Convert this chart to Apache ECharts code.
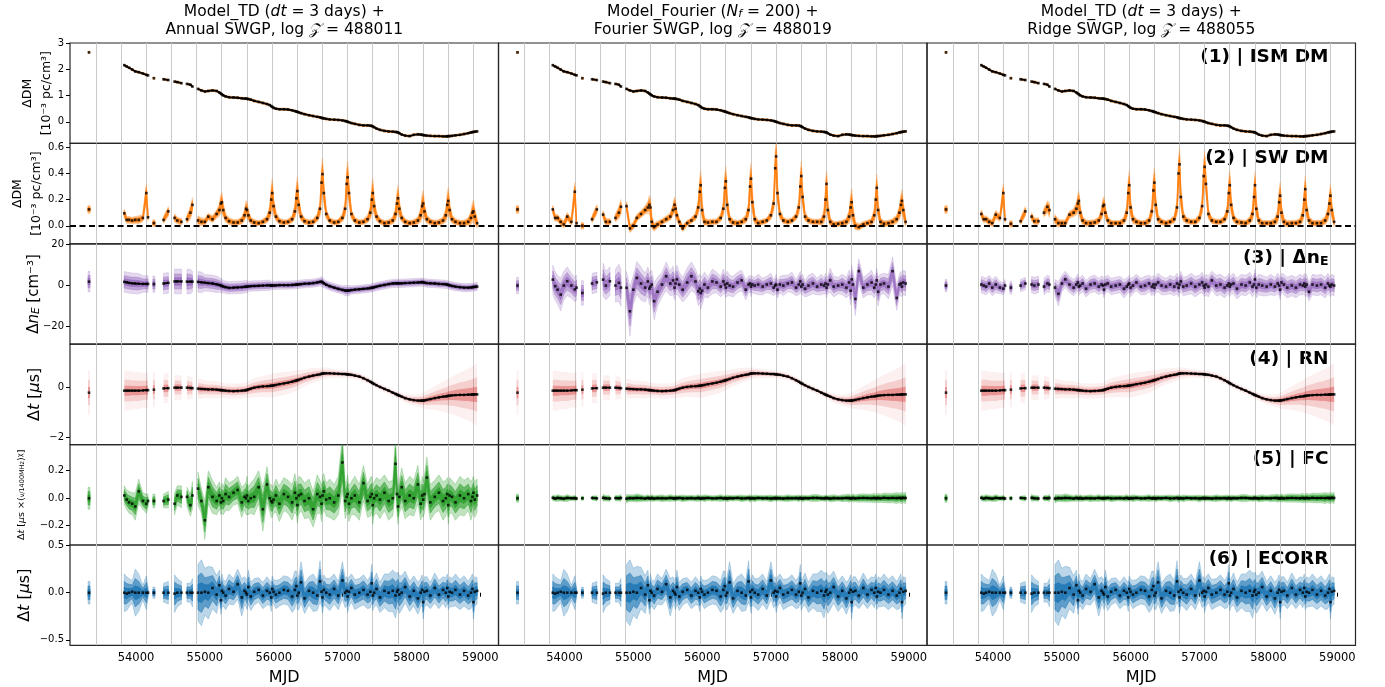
<!DOCTYPE html>
<html>
<head>
<meta charset="utf-8">
<script src="https://cdn.jsdelivr.net/npm/echarts@6/dist/echarts.min.js"></script>
<style>
  html, body { margin: 0; padding: 0; background: #fff; }
  #chart { width: 1385px; height: 687px; }
</style>
</head>
<body>
<div id="chart"></div>
<script>
// Observing epochs (MJD) shared by every panel
const epochMJD = [
  53318, 53830, 53865, 53900, 53945, 53990, 54040, 54100, 54150, 54175, 54260, 54400, 54470, 54560, 54600, 54660, 54740, 54790, 54820, 54900, 54950, 55000, 55050,
  55111, 55171, 55211, 55233, 55247, 55266, 55301, 55351, 55416,
  55476, 55536, 55576, 55598, 55612, 55631, 55666, 55716, 55781,
  55842, 55902, 55942, 55964, 55978, 55997, 56032, 56082, 56147,
  56207, 56267, 56307, 56329, 56343, 56362, 56397, 56447, 56512,
  56572, 56632, 56672, 56694, 56708, 56727, 56762, 56812, 56877,
  56937, 56997, 57037, 57059, 57073, 57092, 57127, 57177, 57242,
  57302, 57362, 57402, 57424, 57438, 57457, 57492, 57542, 57607,
  57668, 57728, 57768, 57790, 57804, 57823, 57858, 57908, 57973,
  58033, 58093, 58133, 58155, 58169, 58188, 58223, 58273, 58338,
  58398, 58458, 58498, 58520, 58534, 58553, 58588, 58638, 58703,
  58763, 58823, 58863, 58885, 58899, 58918, 58953
];
// Solar conjunction dates (vertical guide lines)
const conjunctionMJD = [53415, 53780, 54146, 54511, 54876, 55241, 55606, 55972, 56337, 56702, 57067, 57432, 57798, 58163, 58528, 58893];
const mjdTicks = [54000, 55000, 56000, 57000, 58000, 59000];

// (1) ISM DM [1e-3 pc/cm^3]
const ismDM = [
  2.66, 2.17, 2.12, 2.07, 2.0, 1.93, 1.9, 1.85, 1.8, 1.78, 1.67, 1.63, 1.6, 1.54, 1.52, 1.48, 1.45, 1.42, 1.35, 1.26, 1.2, 1.16, 1.18,
  1.2, 1.18, 1.12, 1.08, 1.05, 1.01, 0.97, 0.94, 0.93,
  0.92, 0.9, 0.89, 0.89, 0.88, 0.87, 0.85, 0.8, 0.76,
  0.72, 0.68, 0.64, 0.6, 0.57, 0.53, 0.5, 0.48, 0.48,
  0.47, 0.44, 0.41, 0.39, 0.38, 0.36, 0.33, 0.29, 0.25,
  0.22, 0.19, 0.17, 0.15, 0.14, 0.13, 0.11, 0.09, 0.08,
  0.07, 0.05, 0.03, 0.01, 0.0, -0.02, -0.05, -0.08, -0.12,
  -0.14, -0.14, -0.15, -0.16, -0.18, -0.21, -0.26, -0.31, -0.35,
  -0.37, -0.38, -0.39, -0.4, -0.41, -0.44, -0.49, -0.53, -0.55,
  -0.5, -0.48, -0.49, -0.5, -0.51, -0.52, -0.53, -0.54, -0.55,
  -0.55, -0.56, -0.56, -0.56, -0.55, -0.55, -0.54, -0.52, -0.5,
  -0.47, -0.44, -0.41, -0.4, -0.39, -0.38, -0.37
];
const ismBand = 0.04;

// (2) Solar-wind DM [1e-3 pc/cm^3]
const swDM_Annual = [
  0.125, 0.095, 0.045, 0.045, 0.04, 0.045, 0.045, 0.06, 0.25, 0.065, 0.02, 0.045, 0.11, 0.06, 0.04, 0.03, 0.05, 0.1, 0.16, 0.04, 0.03, 0.03, 0.07,
  0.05, 0.09, 0.12, 0.17, 0.18, 0.12, 0.06, 0.035, 0.025,
  0.025, 0.04, 0.08, 0.13, 0.12, 0.08, 0.04, 0.025, 0.02,
  0.03, 0.05, 0.1, 0.2, 0.25, 0.15, 0.07, 0.035, 0.025,
  0.03, 0.05, 0.11, 0.21, 0.265, 0.16, 0.07, 0.035, 0.025,
  0.03, 0.06, 0.13, 0.33, 0.395, 0.25, 0.09, 0.04, 0.025,
  0.03, 0.06, 0.13, 0.32, 0.37, 0.25, 0.09, 0.04, 0.025,
  0.03, 0.05, 0.1, 0.2, 0.25, 0.15, 0.07, 0.035, 0.02,
  0.025, 0.04, 0.09, 0.17, 0.21, 0.13, 0.06, 0.03, 0.02,
  0.025, 0.04, 0.08, 0.15, 0.17, 0.11, 0.05, 0.03, 0.02,
  0.025, 0.04, 0.08, 0.16, 0.19, 0.12, 0.05, 0.03, 0.02,
  0.02, 0.03, 0.06, 0.1, 0.11, 0.07, 0.02
];
const swDM_Fourier = [
  0.125, 0.125, 0.06, 0.06, 0.03, 0.01, 0.07, 0.03, 0.26, 0.02, 0.0, 0.05, 0.125, 0.085, 0.03, 0.03, 0.06, 0.1, 0.145, 0.15, -0.02, 0.0, 0.06,
  0.09, 0.12, 0.14, 0.16, 0.14, 0.03, -0.01, 0.01, 0.03,
  0.05, 0.07, 0.12, 0.16, 0.13, 0.08, 0.03, -0.02, 0.02,
  0.04, 0.07, 0.14, 0.26, 0.31, 0.12, 0.03, 0.025, 0.03,
  0.03, 0.06, 0.13, 0.29, 0.34, 0.16, 0.05, 0.025, 0.02,
  0.03, 0.05, 0.12, 0.3, 0.36, 0.18, 0.05, 0.02, 0.03,
  0.04, 0.08, 0.17, 0.44, 0.53, 0.25, 0.09, 0.04, 0.03,
  0.04, 0.07, 0.14, 0.3, 0.38, 0.22, 0.07, 0.04, 0.03,
  0.03, 0.03, 0.07, 0.2, 0.32, 0.12, 0.03, 0.01, 0.015,
  0.02, 0.03, 0.07, 0.14, 0.18, 0.08, 0.0, -0.01, 0.01,
  0.02, 0.03, 0.08, 0.2, 0.29, 0.12, 0.03, 0.015, 0.02,
  0.03, 0.05, 0.1, 0.16, 0.19, 0.12, 0.03
];
const swDM_Ridge = [
  0.125, 0.09, 0.05, 0.05, 0.03, 0.02, 0.085, 0.06, 0.25, 0.05, 0.015, 0.035, 0.11, 0.07, 0.035, 0.035, 0.1, 0.145, 0.12, 0.05, 0.02, 0.02, 0.02,
  0.085, 0.1, 0.13, 0.17, 0.19, 0.1, 0.04, 0.02, 0.02,
  0.025, 0.04, 0.09, 0.15, 0.16, 0.1, 0.04, 0.02, 0.02,
  0.02, 0.04, 0.1, 0.25, 0.31, 0.14, 0.05, 0.03, 0.02,
  0.02, 0.04, 0.11, 0.27, 0.33, 0.16, 0.05, 0.03, 0.02,
  0.03, 0.05, 0.14, 0.4, 0.47, 0.22, 0.07, 0.04, 0.03,
  0.03, 0.06, 0.15, 0.38, 0.45, 0.32, 0.09, 0.04, 0.03,
  0.03, 0.05, 0.11, 0.25, 0.31, 0.16, 0.06, 0.03, 0.025,
  0.02, 0.04, 0.09, 0.22, 0.31, 0.13, 0.04, 0.02, 0.02,
  0.02, 0.03, 0.07, 0.18, 0.23, 0.1, 0.03, 0.015, 0.02,
  0.02, 0.03, 0.08, 0.2, 0.28, 0.12, 0.04, 0.02, 0.02,
  0.02, 0.04, 0.09, 0.17, 0.23, 0.12, 0.03
];
const swSpread = [
  0.03, 0.03, 0.025, 0.025, 0.025, 0.025, 0.03, 0.025, 0.07, 0.025, 0.025, 0.025, 0.035, 0.03, 0.025, 0.025, 0.03, 0.045, 0.055, 0.035, 0.03, 0.025, 0.025,
  0.025, 0.03, 0.045, 0.07, 0.07, 0.05, 0.03, 0.025, 0.022,
  0.022, 0.026, 0.04, 0.06, 0.06, 0.04, 0.026, 0.022, 0.02,
  0.02, 0.026, 0.05, 0.1, 0.11, 0.065, 0.032, 0.022, 0.02,
  0.02, 0.026, 0.05, 0.1, 0.11, 0.065, 0.032, 0.022, 0.02,
  0.02, 0.028, 0.055, 0.11, 0.12, 0.075, 0.035, 0.022, 0.02,
  0.02, 0.028, 0.055, 0.11, 0.12, 0.075, 0.035, 0.022, 0.02,
  0.02, 0.026, 0.05, 0.1, 0.11, 0.065, 0.032, 0.022, 0.02,
  0.02, 0.026, 0.05, 0.09, 0.1, 0.06, 0.03, 0.022, 0.02,
  0.022, 0.026, 0.05, 0.09, 0.1, 0.06, 0.03, 0.024, 0.022,
  0.022, 0.026, 0.05, 0.09, 0.1, 0.06, 0.03, 0.024, 0.022,
  0.024, 0.03, 0.05, 0.075, 0.085, 0.06, 0.035
];

// (3) Delta n_E [cm^-3]
const neE_Annual = [
  1.9, 1.8, 1.6, 1.3, 1.1, 1.0, 0.9, 0.8, 0.8, 0.8, 0.7, 1.0, 1.3, 2.0, 2.0, 2.0, 1.9, 1.9, 1.9, 1.8, 1.6, 1.4, 1.2,
  1.0, 0.6, 0.3, 0.0, -0.2, -0.5, -0.8, -1.1, -1.0,
  -0.9, -0.8, -0.6, -0.5, -0.5, -0.4, -0.3, -0.2, -0.1,
  0.0, 0.1, 0.1, 0.0, 0.0, 0.1, 0.1, 0.2, 0.2,
  0.2, 0.3, 0.4, 0.5, 0.5, 0.6, 0.7, 0.9, 1.0,
  1.2, 1.5, 1.8, 1.9, 1.6, 1.1, 0.4, -0.3, -1.0,
  -1.6, -2.1, -2.4, -2.5, -2.5, -2.4, -2.2, -2.0, -1.8,
  -1.6, -1.4, -1.2, -1.1, -1.0, -0.8, -0.5, -0.1, 0.3,
  0.7, 1.0, 1.1, 1.1, 1.1, 1.1, 1.1, 1.2, 1.3,
  1.4, 1.5, 1.6, 1.7, 1.6, 1.4, 1.2, 1.1, 1.0,
  0.8, 0.7, 0.6, 0.5, 0.3, 0.1, -0.2, -0.5, -0.8,
  -1.0, -1.0, -0.9, -0.8, -0.7, -0.6, -0.5
];
const neE_Fourier = [
  0.0, 2.9, -0.3, -2.0, -4.4, 0.0, 2.1, 0.0, -1.9, -1.0, -3.6, 1.0, 1.6, 2.9, 0.0, 2.1, 0.0, 1.3, -1.0, -1.1, -12.5, -2.0, 3.7,
  1.0, -1.0, 2.0, -1.5, -0.5, 0.5, -7.6, -3.0, 0.5,
  4.5, 1.0, 2.5, -1.0, 1.0, 3.0, 0.5, -2.0, 1.5,
  4.5, 2.0, -2.8, -1.5, -3.6, -2.5, 0.5, -1.0, 2.0,
  1.5, -0.5, 2.0, 0.5, -1.0, 1.0, 0.0, -0.5, 1.5,
  2.5, -2.0, 0.5, 1.0, -0.5, 0.5, 0.0, 0.5, -0.5,
  0.5, 1.0, -1.0, 0.0, 0.5, -2.0, 0.5, 0.0, 1.0,
  1.5, -1.0, 0.5, 2.0, -0.5, 0.5, -1.5, 0.0, 1.0,
  -0.5, 0.5, 0.0, 1.0, -1.0, 0.5, 2.5, -0.5, 0.0,
  0.5, -1.0, 1.5, -2.5, 3.0, 0.5, -6.5, 7.0, -1.0,
  0.5, 1.5, -1.0, 0.5, 2.5, -3.0, 0.5, 1.0, -0.5,
  7.0, -6.0, 0.5, 1.0, -0.5, 1.5, 1.0
];
const neE_Ridge = [
  0.0, 0.5, 0.0, -0.5, 1.0, -1.0, 0.5, -1.0, -1.5, 0.0, -1.0, 0.0, 1.0, 0.5, 0.0, 0.5, -0.5, 1.0, 0.5, -1.0, -4.0, 1.0, 3.0,
  0.5, -1.0, 0.5, 1.5, -0.5, 0.0, 1.0, -1.5, 0.5,
  1.0, -0.5, 0.5, 0.0, -2.0, 0.5, 1.0, -0.5, 0.0,
  0.5, -1.5, -0.5, 0.5, 1.0, -1.0, 0.0, 1.5, -0.5,
  0.0, 1.0, -0.5, 0.5, -1.0, 0.5, 1.5, 0.0, -0.5,
  0.5, -0.5, 1.0, -1.0, 0.5, 2.0, -0.5, 0.0, 1.0,
  -0.5, 0.5, 1.5, 0.0, -1.0, 0.5, -0.5, 2.5, 0.0,
  0.5, -1.0, 0.0, 1.0, -0.5, 0.5, 1.0, -1.5, 0.5,
  0.0, 1.5, -0.5, 0.5, 3.0, -1.0, 0.5, 0.0, -0.5,
  0.5, -0.5, 1.0, 0.0, -2.0, 1.5, 0.5, -1.0, 0.0,
  -1.0, 0.5, 0.0, 1.0, -0.5, 0.5, -3.0, 0.5, 0.0,
  0.5, -1.0, 1.0, 0.0, -0.5, 0.5, 0.0
];
const neSpread_Annual = [
  5, 5, 5, 5, 5, 5, 5, 4, 4, 4, 4, 5, 5, 6, 6, 6, 6, 6, 5, 5, 5, 4, 4,
  4, 4, 3.5, 3.5, 3.5, 3, 3, 3, 3,
  3, 3, 3, 3, 3, 2.5, 2.5, 2.5, 2.5,
  2.5, 2.5, 2.5, 2, 2, 2, 2, 2, 2,
  2, 2, 2, 2, 2, 2, 2, 2, 2,
  2, 2, 2, 2.5, 2.5, 2, 2, 2, 2,
  2, 2, 2.5, 2.5, 2.5, 2.5, 2, 2, 2,
  2, 2, 2, 2, 2, 2, 2, 2, 2,
  2, 2, 2, 2, 2, 2, 2, 2, 2,
  2, 2, 2, 2, 2, 2, 2, 2, 2,
  2, 2, 2, 2, 2, 2, 2, 2, 2,
  2, 2, 2, 2, 2, 2, 2
];
const neSpread_Fourier = [
  4, 7, 7, 7, 8, 7, 7, 6, 6, 6, 6, 5, 5, 8, 7, 7, 8, 9, 9, 8, 12, 7, 8,
  8, 7, 7, 8, 7, 7, 9, 7, 6,
  7, 6, 7, 6, 6, 7, 6, 6, 7,
  7, 6, 7, 7, 8, 7, 6, 5, 6,
  5, 5, 6, 5, 5, 6, 5, 5, 5,
  5, 5, 4, 4, 5, 4, 4, 5, 4,
  4, 5, 4, 4, 5, 4, 4, 5, 4,
  5, 4, 5, 5, 4, 5, 4, 5, 5,
  4, 5, 4, 5, 5, 4, 6, 5, 4,
  5, 5, 6, 7, 7, 6, 8, 6, 5,
  5, 6, 5, 5, 6, 7, 5, 5, 6,
  7, 6, 5, 6, 5, 6, 6
];
const neSpread_Ridge = [
  3, 4, 4, 4, 4, 4, 4, 3, 3, 3, 3, 3, 3, 4, 4, 4, 4, 4, 4, 4, 6, 4, 4,
  4, 4, 4, 4, 4, 4, 4, 4, 4,
  4, 4, 4, 4.5, 4, 4, 4, 4, 4,
  4, 4.5, 4, 4, 4, 4.5, 4, 4, 4,
  4.5, 4, 4.5, 4.5, 4, 4, 4.5, 4.5, 4,
  4.5, 4.5, 5, 4.5, 4.5, 5, 4.5, 4.5, 5,
  5, 4.5, 5, 5, 4.5, 5, 5, 4.5, 5,
  5, 5, 4.5, 5, 5, 4.5, 5, 5, 5,
  5, 5, 5, 4.5, 5, 5, 5, 5, 4.5,
  5, 4.5, 5, 5, 5, 4.5, 5, 5, 5,
  5, 5, 4.5, 5, 5, 5, 4.5, 5, 5,
  5, 5, 5, 4.5, 5, 5, 5
];

// (4) Achromatic red noise [us]
const rnDelay = [
  -0.2, -0.12, -0.12, -0.12, -0.12, -0.12, -0.12, -0.11, -0.1, -0.1, -0.08, -0.03, -0.02, 0.0, 0.0, 0.0, 0.0, -0.01, -0.02, -0.04, -0.05, -0.06, -0.07,
  -0.07, -0.08, -0.09, -0.1, -0.1, -0.11, -0.12, -0.13, -0.14,
  -0.13, -0.12, -0.11, -0.1, -0.09, -0.07, -0.04, 0.0, 0.03,
  0.05, 0.06, 0.07, 0.08, 0.08, 0.09, 0.11, 0.14, 0.17,
  0.2, 0.24, 0.27, 0.29, 0.3, 0.32, 0.35, 0.4, 0.45,
  0.49, 0.52, 0.54, 0.56, 0.57, 0.58, 0.58, 0.58, 0.57,
  0.56, 0.55, 0.55, 0.54, 0.54, 0.53, 0.52, 0.49, 0.45,
  0.38, 0.3, 0.24, 0.2, 0.18, 0.15, 0.1, 0.03, -0.05,
  -0.12, -0.2, -0.25, -0.28, -0.3, -0.32, -0.36, -0.42, -0.47,
  -0.5, -0.52, -0.52, -0.52, -0.52, -0.51, -0.49, -0.46, -0.42,
  -0.39, -0.36, -0.35, -0.34, -0.33, -0.32, -0.31, -0.3, -0.29,
  -0.29, -0.28, -0.28, -0.28, -0.27, -0.27, -0.27
];
const rnSpread = [
  0.9, 0.8, 0.8, 0.8, 0.75, 0.75, 0.75, 0.7, 0.7, 0.7, 0.7, 0.6, 0.6, 0.5, 0.5, 0.5, 0.5, 0.45, 0.45, 0.4, 0.4, 0.35, 0.35,
  0.35, 0.35, 0.32, 0.3, 0.3, 0.3, 0.3, 0.3, 0.3,
  0.3, 0.3, 0.3, 0.3, 0.32, 0.34, 0.36, 0.38, 0.4,
  0.42, 0.45, 0.46, 0.47, 0.48, 0.48, 0.48, 0.47, 0.46,
  0.45, 0.44, 0.42, 0.4, 0.4, 0.38, 0.36, 0.34, 0.32,
  0.3, 0.28, 0.26, 0.25, 0.24, 0.24, 0.22, 0.2, 0.18,
  0.17, 0.16, 0.15, 0.15, 0.15, 0.15, 0.15, 0.15, 0.14,
  0.14, 0.14, 0.13, 0.13, 0.13, 0.13, 0.13, 0.13, 0.13,
  0.13, 0.13, 0.14, 0.14, 0.15, 0.15, 0.16, 0.18, 0.2,
  0.22, 0.25, 0.28, 0.3, 0.32, 0.34, 0.38, 0.42, 0.48,
  0.54, 0.6, 0.64, 0.67, 0.7, 0.72, 0.76, 0.82, 0.9,
  0.97, 1.04, 1.1, 1.13, 1.16, 1.2, 1.25
];

// (5) Frequency-dependent (FC) delay
const fc_Annual = [
  0.0, 0.02, -0.01, -0.03, -0.04, -0.06, 0.05, -0.02, -0.04, -0.02, -0.02, -0.02, -0.01, -0.04, 0.02, 0.01, 0.01, -0.05, 0.02, 0.07, -0.02, -0.16, 0.08,
  0.01, -0.02, 0.02, -0.03, 0.0, -0.02, 0.03, 0.01, 0.04,
  0.06, -0.03, 0.01, 0.0, 0.02, -0.02, 0.0, 0.01, 0.08,
  -0.08, 0.1, 0.0, -0.02, -0.03, -0.01, 0.02, -0.04, 0.03,
  0.01, -0.03, 0.04, 0.0, -0.05, 0.02, 0.03, -0.02, 0.0,
  -0.08, 0.03, 0.01, -0.04, 0.02, 0.05, -0.01, 0.0, -0.03,
  0.02, 0.26, -0.02, 0.01, 0.03, -0.04, 0.0, 0.02, -0.03,
  0.11, -0.02, 0.01, 0.03, -0.05, 0.0, 0.02, -0.01, 0.04,
  -0.02, 0.0, 0.25, 0.03, -0.06, 0.01, 0.08, -0.02, 0.02,
  0.0, 0.1, -0.04, 0.02, -0.01, 0.03, 0.15, -0.03, 0.01,
  0.04, -0.02, 0.0, 0.03, -0.05, 0.02, 0.01, -0.03, 0.02,
  0.0, 0.03, -0.02, 0.01, 0.04, -0.01, 0.02
];
const fcSpread_Annual = [
  0.08, 0.07, 0.07, 0.08, 0.08, 0.1, 0.09, 0.06, 0.07, 0.05, 0.05, 0.05, 0.06, 0.08, 0.07, 0.08, 0.07, 0.08, 0.1, 0.12, 0.09, 0.14, 0.12,
  0.12, 0.1, 0.1, 0.09, 0.11, 0.1, 0.12, 0.1, 0.09,
  0.1, 0.11, 0.09, 0.12, 0.14, 0.1, 0.11, 0.13, 0.12,
  0.16, 0.13, 0.1, 0.12, 0.11, 0.1, 0.12, 0.13, 0.12,
  0.12, 0.13, 0.14, 0.12, 0.13, 0.14, 0.12, 0.13, 0.14,
  0.13, 0.14, 0.12, 0.13, 0.14, 0.13, 0.12, 0.14, 0.13,
  0.14, 0.2, 0.13, 0.12, 0.14, 0.13, 0.12, 0.14, 0.13,
  0.13, 0.12, 0.14, 0.13, 0.14, 0.12, 0.13, 0.14, 0.13,
  0.14, 0.13, 0.2, 0.14, 0.13, 0.12, 0.14, 0.13, 0.14,
  0.13, 0.14, 0.12, 0.14, 0.13, 0.14, 0.15, 0.13, 0.12,
  0.13, 0.14, 0.13, 0.12, 0.14, 0.13, 0.12, 0.13, 0.14,
  0.13, 0.12, 0.14, 0.13, 0.12, 0.13, 0.12
];
const fc_Flat = [
  0, 0.003, -0.002, 0.002, 0, -0.003, 0.002, 0, 0.001, -0.002, 0, 0.002, -0.001, 0.003, 0, -0.002, 0.001, 0, 0.002, -0.003, 0.001, 0, 0.002,
  0.001, -0.002, 0.002, 0, -0.001, 0.002, -0.002, 0.001, 0,
  -0.001, 0.002, 0, -0.002, 0.001, 0, 0.002, -0.001, 0,
  0.001, -0.001, 0.002, 0, -0.002, 0.001, 0, 0.002, -0.001,
  0, 0.002, -0.001, 0.001, 0, -0.002, 0.001, 0, 0.002,
  -0.001, 0, 0.002, -0.002, 0.001, 0, -0.001, 0.002, 0,
  0.001, -0.002, 0, 0.002, -0.001, 0.001, 0, -0.002, 0.001,
  0, 0.001, -0.001, 0.002, 0, -0.002, 0.001, 0, 0.002,
  0.002, 0, -0.001, 0.001, 0.002, 0, -0.002, 0.001, 0,
  0, 0.002, 0.001, -0.001, 0, 0.002, -0.001, 0.001, 0.002,
  0.001, 0, 0.002, -0.001, 0.001, 0.002, 0, 0.003, 0.001,
  0.002, 0.001, 0.003, 0, 0.002, 0.003, 0.002
];
const fcSpread_Flat = [
  0.03, 0.02, 0.02, 0.025, 0.02, 0.02, 0.025, 0.015, 0.02, 0.015, 0.015, 0.015, 0.02, 0.025, 0.02, 0.02, 0.02, 0.02, 0.025, 0.03, 0.025, 0.025, 0.03,
  0.025, 0.02, 0.025, 0.02, 0.02, 0.025, 0.02, 0.02, 0.025,
  0.02, 0.025, 0.02, 0.02, 0.025, 0.02, 0.02, 0.025, 0.02,
  0.02, 0.02, 0.025, 0.02, 0.02, 0.02, 0.025, 0.02, 0.02,
  0.02, 0.025, 0.02, 0.02, 0.02, 0.025, 0.02, 0.02, 0.02,
  0.025, 0.02, 0.02, 0.03, 0.02, 0.02, 0.025, 0.02, 0.02,
  0.02, 0.025, 0.02, 0.02, 0.025, 0.02, 0.02, 0.02, 0.025,
  0.02, 0.02, 0.025, 0.02, 0.02, 0.025, 0.02, 0.02, 0.025,
  0.025, 0.02, 0.02, 0.025, 0.02, 0.02, 0.025, 0.025, 0.02,
  0.025, 0.025, 0.03, 0.025, 0.025, 0.03, 0.025, 0.03, 0.03,
  0.03, 0.03, 0.035, 0.03, 0.03, 0.035, 0.03, 0.035, 0.035,
  0.035, 0.04, 0.035, 0.04, 0.04, 0.035, 0.04
];

// (6) ECORR [us]
const ecorrDelay = [
  0.0, 0.0, -0.01, 0.0, 0.01, 0.0, 0.0, 0.0, 0.0, 0.0, 0.0, 0.0, 0.0, -0.01, 0.0, 0.0, 0.0, 0.0, 0.0, 0.0, 0.0, 0.01, 0.0,
  0.05, -0.02, 0.08, -0.08, 0.02, 0.0, -0.03, 0.04, 0.01,
  0.09, -0.05, 0.02, 0.0, -0.02, 0.06, -0.04, 0.01, 0.03,
  -0.03, 0.02, 0.0, -0.05, 0.04, 0.01, -0.02, 0.0, 0.03,
  0.02, -0.04, 0.03, 0.07, -0.03, 0.0, 0.11, -0.06, 0.02,
  0.0, -0.03, 0.12, 0.01, -0.05, 0.03, 0.0, -0.02, 0.04,
  -0.03, 0.13, 0.0, 0.02, -0.04, 0.01, 0.05, -0.02, 0.0,
  0.03, -0.02, 0.01, 0.1, -0.03, 0.0, 0.04, -0.05, 0.02,
  0.0, 0.02, -0.03, 0.01, 0.03, -0.02, 0.0, 0.06, -0.04,
  0.02, -0.06, 0.0, 0.03, -0.1, 0.01, 0.02, -0.03, 0.05,
  -0.02, 0.03, 0.0, 0.05, -0.04, 0.01, 0.0, 0.03, -0.02,
  0.02, -0.03, 0.0, 0.04, -0.1, 0.01, 0.02
];
const ecorrSpread = [
  0.12, 0.2, 0.18, 0.15, 0.12, 0.25, 0.2, 0.08, 0.18, 0.06, 0.06, 0.1, 0.12, 0.2, 0.15, 0.12, 0.1, 0.1, 0.15, 0.3, 0.35, 0.25, 0.28,
  0.22, 0.2, 0.16, 0.15, 0.18, 0.14, 0.15, 0.16, 0.14,
  0.16, 0.2, 0.15, 0.14, 0.16, 0.18, 0.15, 0.14, 0.13,
  0.14, 0.15, 0.13, 0.15, 0.14, 0.13, 0.15, 0.14, 0.15,
  0.15, 0.17, 0.2, 0.16, 0.15, 0.18, 0.22, 0.16, 0.15,
  0.2, 0.16, 0.22, 0.15, 0.17, 0.16, 0.15, 0.17, 0.16,
  0.15, 0.2, 0.16, 0.15, 0.17, 0.16, 0.15, 0.16, 0.15,
  0.16, 0.15, 0.17, 0.2, 0.16, 0.15, 0.17, 0.16, 0.18,
  0.2, 0.22, 0.24, 0.2, 0.19, 0.2, 0.18, 0.17, 0.16,
  0.16, 0.17, 0.15, 0.16, 0.18, 0.16, 0.15, 0.14, 0.16,
  0.15, 0.14, 0.16, 0.15, 0.14, 0.16, 0.15, 0.17, 0.16,
  0.16, 0.15, 0.17, 0.16, 0.18, 0.16, 0.14
];

// ---------------------------------------------------------------- layout
const FONT = 'DejaVu Sans';
const colLeft = [70, 498.5, 927];
const colWidth = 428.5;
const rowTop0 = 43, rowHeight = 100.4;
const X_MIN = 53042, X_MAX = 59263;
const MAX_GAP = 75;   // days: larger gaps break lines/bands

const rowAxes = [
  { min: -0.83, max: 3.02, ticks: [0, 1, 2, 3], dec: 0 },
  { min: -0.138, max: 0.63, ticks: [0, 0.2, 0.4, 0.6], dec: 1 },
  { min: -28.5, max: 20.3, ticks: [-20, 0, 20], dec: 0 },
  { min: -2.29, max: 1.75, ticks: [-2, 0], dec: 0 },
  { min: -0.34, max: 0.39, ticks: [-0.2, 0, 0.2], dec: 1 },
  { min: -0.56, max: 0.507, ticks: [-0.5, 0, 0.5], dec: 1 }
];
// band colour, nested layers [half-width factor, opacity], polygon edge width
const rowStyle = [
  { color: '#ff7f0e', layers: [[1, 0.6]], edge: 0.8 },
  { color: '#ff7f0e', layers: [[1, 0.3], [0.6, 0.55], [0.3, 0.85]], edge: 1.2 },
  { color: '#9467bd', layers: [[1, 0.25], [0.6, 0.45], [0.3, 0.7]], edge: 0.8 },
  { color: '#d62728', layers: [[1, 0.07], [0.55, 0.17], [0.25, 0.35]], edge: 0 },
  { color: '#2ca02c', layers: [[1, 0.3], [0.6, 0.6], [0.3, 0.85]], edge: 0.8 },
  { color: '#1f77b4', layers: [[1, 0.3], [0.6, 0.6], [0.3, 0.85]], edge: 0.8 }
];
const panels = [
  [{ v: ismDM, s: ismBand, line: true }, { v: ismDM, s: ismBand, line: true }, { v: ismDM, s: ismBand, line: true }],
  [{ v: swDM_Annual, s: swSpread }, { v: swDM_Fourier, s: swSpread }, { v: swDM_Ridge, s: swSpread }],
  [{ v: neE_Annual, s: neSpread_Annual, line: true }, { v: neE_Fourier, s: neSpread_Fourier }, { v: neE_Ridge, s: neSpread_Ridge }],
  [{ v: rnDelay, s: rnSpread, line: true }, { v: rnDelay, s: rnSpread, line: true }, { v: rnDelay, s: rnSpread, line: true }],
  [{ v: fc_Annual, s: fcSpread_Annual }, { v: fc_Flat, s: fcSpread_Flat, line: true }, { v: fc_Flat, s: fcSpread_Flat, line: true }],
  [{ v: ecorrDelay, s: ecorrSpread }, { v: ecorrDelay, s: ecorrSpread }, { v: ecorrDelay, s: ecorrSpread }]
];

// contiguous runs of epochs (no gap larger than MAX_GAP)
const runs = [];
(function () {
  let start = 0;
  for (let i = 1; i <= epochMJD.length; i++) {
    if (i === epochMJD.length || epochMJD[i] - epochMJD[i - 1] > MAX_GAP) {
      runs.push([start, i - 1]);
      start = i;
    }
  }
})();

function fmtTick(dec) {
  return function (v) {
    const s = Math.abs(v).toFixed(dec);
    return (v < 0 ? '\u2212' : '') + s;
  };
}

const grids = [], xAxes = [], yAxes = [], series = [];
for (let r = 0; r < 6; r++) {
  for (let c = 0; c < 3; c++) {
    const g = r * 3 + c;
    const bottom = r === 5;
    grids.push({
      left: colLeft[c], top: rowTop0 + r * rowHeight, width: colWidth, height: rowHeight,
      show: true, borderColor: '#262626', borderWidth: 1.2, backgroundColor: 'transparent'
    });
    xAxes.push({
      type: 'value', gridIndex: g, min: X_MIN, max: X_MAX,
      axisLine: { show: false }, splitLine: { show: false },
      axisTick: { show: bottom, customValues: mjdTicks, length: 4, lineStyle: { color: '#000', width: 1 } },
      axisLabel: { show: bottom, customValues: mjdTicks, formatter: (v) => String(v), fontFamily: FONT, fontSize: 11.5, color: '#000', margin: 7 },
      name: bottom ? 'MJD' : '', nameLocation: 'middle', nameGap: 24,
      nameTextStyle: { fontFamily: FONT, fontSize: 16, color: '#000' }
    });
    const ax = rowAxes[r];
    yAxes.push({
      type: 'value', gridIndex: g, min: ax.min, max: ax.max,
      axisLine: { show: false }, splitLine: { show: false },
      axisTick: { show: c === 0, customValues: ax.ticks, length: 4, lineStyle: { color: '#000', width: 1 } },
      axisLabel: { show: c === 0, customValues: ax.ticks, formatter: fmtTick(ax.dec), fontFamily: FONT, fontSize: 10, color: '#000', margin: 6 }
    });

    const p = panels[r][c];
    const st = rowStyle[r];
    const vals = p.v;
    const spreadAt = (i) => (typeof p.s === 'number' ? p.s : p.s[i]);

    // conjunction guide lines
    series.push({
      type: 'custom', xAxisIndex: g, yAxisIndex: g, z: 1, silent: true, clip: true,
      data: conjunctionMJD.map(m => [m, 0]),
      renderItem: function (params, api) {
        const cs = params.coordSys;
        const x = Math.round(api.coord([api.value(0), 0])[0]) + 0.5;
        return { type: 'line', shape: { x1: x, y1: cs.y, x2: x, y2: cs.y + cs.height },
                 style: { stroke: '#cacaca', lineWidth: 1 } };
      }
    });

    // posterior spread bands
    series.push({
      type: 'custom', xAxisIndex: g, yAxisIndex: g, z: 2, silent: true, clip: true,
      data: runs.map(rn => [epochMJD[rn[0]], vals[rn[0]]]),
      renderItem: function (params, api) {
        const [a, b] = runs[params.dataIndex];
        const children = [];
        st.layers.forEach(([f, alpha]) => {
          const pts = [];
          if (a === b) {
            const top = api.coord([epochMJD[a], vals[a] + f * spreadAt(a)]);
            const bot = api.coord([epochMJD[a], vals[a] - f * spreadAt(a)]);
            pts.push([top[0] - 1, top[1]], [top[0] + 1, top[1]], [bot[0] + 1, bot[1]], [bot[0] - 1, bot[1]]);
          } else {
            for (let i = a; i <= b; i++) pts.push(api.coord([epochMJD[i], vals[i] + f * spreadAt(i)]));
            for (let i = b; i >= a; i--) pts.push(api.coord([epochMJD[i], vals[i] - f * spreadAt(i)]));
          }
          const style = { fill: st.color, opacity: alpha };
          if (st.edge) { style.stroke = st.color; style.lineWidth = st.edge; style.lineJoin = 'round'; }
          children.push({ type: 'polygon', shape: { points: pts }, style: style });
        });
        return { type: 'group', children: children };
      }
    });

    // median curve
    if (p.line) {
      const lineData = [];
      epochMJD.forEach((m, i) => {
        if (i > 0 && m - epochMJD[i - 1] > MAX_GAP) lineData.push([m - 1, '-']);
        lineData.push([m, vals[i]]);
      });
      series.push({
        type: 'line', xAxisIndex: g, yAxisIndex: g, z: 3, silent: true,
        data: lineData, showSymbol: false, connectNulls: false,
        lineStyle: { color: '#000', width: 1.8 }, animation: false
      });
    }

    // data points
    const scatter = {
      type: 'scatter', xAxisIndex: g, yAxisIndex: g, z: 4, silent: true,
      data: epochMJD.map((m, i) => [m, vals[i]]),
      symbol: 'rect', symbolSize: 2.6, itemStyle: { color: '#000' }, animation: false
    };
    if (r === 1) {
      scatter.markLine = {
        silent: true, symbol: 'none', label: { show: false }, animation: false,
        lineStyle: { color: '#000', type: [6, 3.5], width: 1.8 },
        data: [{ yAxis: 0 }]
      };
    }
    series.push(scatter);
  }
}

// ---------------------------------------------------------------- text
const titleRich = {
  r: { fontFamily: FONT, fontSize: 15.5, fill: '#000' },
  i: { fontFamily: FONT, fontSize: 15.5, fontStyle: 'italic', fill: '#000' },
  s: { fontFamily: FONT, fontSize: 11, fontStyle: 'italic', fill: '#000', verticalAlign: 'bottom' },
  z: { fontFamily: 'DejaVu Serif', fontSize: 15.5, fontStyle: 'italic', fill: '#000' }
};
const colTitles = [
  ['{r|Model_TD (}{i|dt}{r| = 3 days) +}', '{r|Annual SWGP, log }{z|\uD835\uDCB5}{r| = 488011}'],
  ['{r|Model_Fourier (}{i|N}{s|f}{r| = 200) +}', '{r|Fourier SWGP, log }{z|\uD835\uDCB5}{r| = 488019}'],
  ['{r|Model_TD (}{i|dt}{r| = 3 days) +}', '{r|Ridge SWGP, log }{z|\uD835\uDCB5}{r| = 488055}']
];
const rowNames = [
  '{b|(1) | ISM DM}', '{b|(2) | SW DM}', '{b|(3) | Δn}{bs|E}', '{b|(4) | RN}', '{b|(5) | FC}', '{b|(6) | ECORR}'
];

const graphics = [];
colTitles.forEach((lines, c) => {
  const cx = colLeft[c] + colWidth / 2;
  lines.forEach((t, k) => {
    graphics.push({
      type: 'text', x: cx, y: k === 0 ? 12 : 30, silent: true,
      style: { text: t, rich: titleRich, align: 'center', verticalAlign: 'middle' }
    });
  });
});
rowNames.forEach((t, r) => {
  graphics.push({
    type: 'text', x: colLeft[2] + colWidth - 27, y: rowTop0 + r * rowHeight + 14.5, silent: true,
    style: {
      text: t, align: 'right', verticalAlign: 'middle',
      rich: {
        b: { fontFamily: FONT, fontWeight: 'bold', fontSize: 18.5, fill: '#000' },
        bs: { fontFamily: FONT, fontWeight: 'bold', fontSize: 12.5, fill: '#000', verticalAlign: 'bottom' }
      }
    }
  });
});

const yLabelRich = {
  a: { fontFamily: FONT, fill: '#000' },
  i: { fontFamily: FONT, fontStyle: 'italic', fill: '#000' }
};
function yLabel(text, cx, row, size, extraRich, lineHeight) {
  const rich = {};
  Object.keys(yLabelRich).forEach(k => { rich[k] = Object.assign({}, yLabelRich[k], { fontSize: size }); if (lineHeight) rich[k].lineHeight = lineHeight; });
  Object.assign(rich, extraRich || {});
  graphics.push({
    type: 'text', x: cx, y: rowTop0 + row * rowHeight + rowHeight / 2, rotation: Math.PI / 2, silent: true,
    style: { text: text, rich: rich, align: 'center', verticalAlign: 'middle' }
  });
}
yLabel('{a|ΔDM}\n{a|[10⁻³ pc/cm³]}', 37, 0, 12.5, null, 18.5);
yLabel('{a|ΔDM}\n{a|[10⁻³ pc/cm³]}', 27, 1, 12.5, null, 18.5);
yLabel('{a|Δ}{i|n}{sub|E}{a| [cm⁻³]}', 34, 2, 15,
  { sub: { fontFamily: FONT, fontStyle: 'italic', fontSize: 10.5, fill: '#000', verticalAlign: 'bottom' } });
yLabel('{a|Δ}{i|t}{a| [}{i|μ}{a|s]}', 35, 3, 16);
yLabel('{a|Δ}{i|t}{a| [}{i|μ}{a|s ×(}{f|ν/1400MHz}{a|)}{sup|χ}{a|]}', 22, 4, 9.5,
  { f: { fontFamily: FONT, fontSize: 6.5, fill: '#000' },
    sup: { fontFamily: FONT, fontSize: 7, fill: '#000', verticalAlign: 'top' } });
yLabel('{a|Δ}{i|t}{a| [}{i|μ}{a|s]}', 25, 5, 16);

const chart = echarts.init(document.getElementById('chart'), null, { renderer: 'canvas' });
chart.setOption({
  animation: false,
  backgroundColor: '#fff',
  grid: grids,
  xAxis: xAxes,
  yAxis: yAxes,
  series: series,
  graphic: graphics
});
</script>
</body>
</html>
